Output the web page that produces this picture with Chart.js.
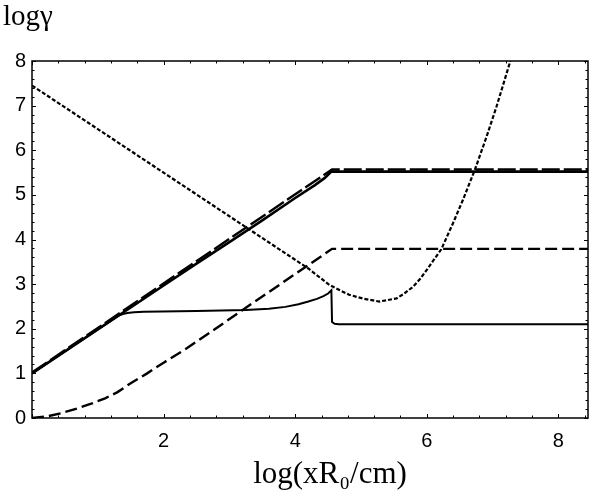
<!DOCTYPE html>
<html>
<head>
<meta charset="utf-8">
<script src="https://cdn.jsdelivr.net/npm/chart.js@4/dist/chart.umd.min.js"></script>
<style>
  html, body { margin: 0; padding: 0; background: #fff; }
  #wrap { width: 601px; height: 491px; }
</style>
</head>
<body>
<div id="wrap"><canvas id="gammaChart"></canvas></div>
<script>
// values
const xTicks = [2, 4, 6, 8];
const yTicks = [0, 1, 2, 3, 4, 5, 6, 7, 8];

const dottedX = [0, 4.2, 4.52, 4.82, 5.05, 5.28, 5.54, 5.65, 5.79, 5.9, 6.0, 6.1, 6.22, 6.4, 6.55, 6.73, 6.91, 7.06, 7.27];
const dottedY = [7.45, 3.35, 2.98, 2.76, 2.67, 2.61, 2.68, 2.78, 2.94, 3.12, 3.32, 3.53, 3.78, 4.37, 4.89, 5.56, 6.31, 6.98, 8.0];

const thickX = [0, 2, 2.5, 3, 3.5, 4, 4.3, 4.45, 4.55, 8.45];
const thickY = [1.0, 2.97, 3.46, 3.94, 4.43, 4.93, 5.22, 5.38, 5.52, 5.52];

const thickDashX = [0, 4.56, 8.45];
const thickDashY = [1.02, 5.57, 5.57];

const lowSolidX = [0, 1.31, 1.38, 1.45, 1.55, 1.7, 2.5, 3.25, 3.6, 3.85, 4.05, 4.2, 4.33, 4.43, 4.5, 4.55, 4.56, 4.6, 4.66, 8.45];
const lowSolidY = [1.0, 2.29, 2.33, 2.355, 2.37, 2.38, 2.4, 2.42, 2.45, 2.49, 2.55, 2.61, 2.67, 2.73, 2.79, 2.86, 2.15, 2.11, 2.1, 2.1];

const lowDashX = [0, 0.24, 0.45, 0.7, 0.9, 1.11, 1.3, 1.5, 1.75, 2.0, 2.33, 2.7, 3.19, 4.56, 8.45];
const lowDashY = [0, 0.04, 0.11, 0.22, 0.32, 0.44, 0.58, 0.78, 1.0, 1.24, 1.54, 1.91, 2.41, 3.79, 3.79];

function pts(xs, ys) {
    return xs.map((x, i) => ({ x: x, y: ys[i] }));
}

function line(xs, ys, width, dash) {
    return {
        data: pts(xs, ys),
        borderColor: '#000',
        borderWidth: width,
        borderDash: dash,
        pointRadius: 0,
        fill: false,
        tension: 0
    };
}

// inward tick marks on all four sides, frame and the two axis titles
const framePlugin = {
    id: 'frame',
    afterDraw(chart) {
        const ctx = chart.ctx;
        const a = chart.chartArea;
        const xs = chart.scales.x;
        const ys = chart.scales.y;
        ctx.save();
        ctx.strokeStyle = '#000';
        ctx.lineWidth = 1.5;
        ctx.strokeRect(a.left, a.top, a.right - a.left, a.bottom - a.top);
        ctx.lineWidth = 1;
        ctx.beginPath();
        for (let i = 0; i * 0.4 <= xs.max + 1e-9; i++) {
            const p = Math.round(xs.getPixelForValue(i * 0.4)) + 0.5;
            const len = (i % 5 === 0) ? 4 : 2.5;
            ctx.moveTo(p, a.bottom); ctx.lineTo(p, a.bottom - len);
            ctx.moveTo(p, a.top); ctx.lineTo(p, a.top + len);
        }
        for (let i = 0; i <= 40; i++) {
            const p = Math.round(ys.getPixelForValue(i * 0.2)) + 0.5;
            const len = (i % 5 === 0) ? 4 : 2.5;
            ctx.moveTo(a.left, p); ctx.lineTo(a.left + len, p);
            ctx.moveTo(a.right, p); ctx.lineTo(a.right - len, p);
        }
        ctx.stroke();

        ctx.fillStyle = '#000';
        ctx.textBaseline = 'alphabetic';
        ctx.font = '29px "Liberation Serif", serif';
        ctx.textAlign = 'left';
        ctx.fillText('logγ', 3, 25);
        ctx.font = '31px "Liberation Serif", serif';
        ctx.textAlign = 'center';
        ctx.fillText('log(xR\u2080/cm)', 330, 483);
        ctx.restore();
    }
};

new Chart(document.getElementById('gammaChart'), {
    type: 'line',
    data: {
        datasets: [
            line(dottedX, dottedY, 2.2, [4, 2]),
            line(lowDashX, lowDashY, 2.4, [12, 5]),
            line(lowSolidX, lowSolidY, 2, []),
            line(thickX, thickY, 2.6, []),
            line(thickDashX, thickDashY, 2.4, [18, 4])
        ]
    },
    options: {
        responsive: true,
        maintainAspectRatio: false,
        animation: false,
        layout: { padding: { top: 61, right: 13, left: 0, bottom: 0 } },
        plugins: {
            legend: { display: false },
            tooltip: { enabled: false }
        },
        scales: {
            x: {
                type: 'linear',
                min: 0,
                max: 8.45,
                afterBuildTicks: (scale) => { scale.ticks = xTicks.map(v => ({ value: v })); },
                afterFit: (scale) => { scale.height = 73; },
                grid: { display: false, drawTicks: false },
                border: { display: false },
                ticks: {
                    padding: 11,
                    color: '#000',
                    font: { family: '"Liberation Sans", sans-serif', size: 20 }
                }
            },
            y: {
                type: 'linear',
                min: 0,
                max: 8,
                afterBuildTicks: (scale) => { scale.ticks = yTicks.map(v => ({ value: v })); },
                afterFit: (scale) => { scale.width = 32; },
                grid: { display: false, drawTicks: false },
                border: { display: false },
                ticks: {
                    padding: 6,
                    color: '#000',
                    font: { family: '"Liberation Sans", sans-serif', size: 20 }
                }
            }
        }
    },
    plugins: [framePlugin]
});
</script>
</body>
</html>
